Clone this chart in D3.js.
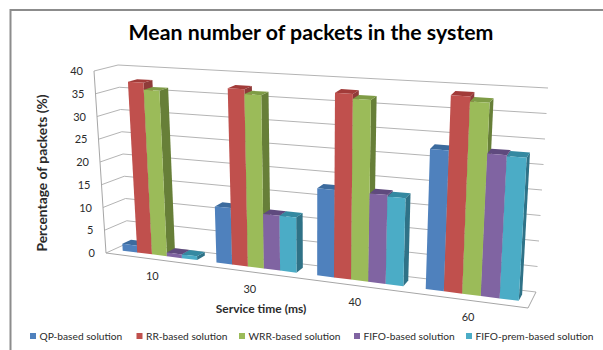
<!DOCTYPE html>
<html>
<head>
<meta charset="utf-8">
<script src="https://cdn.jsdelivr.net/npm/d3@7"></script>
<style>
html, body { margin: 0; padding: 0; background: #fff; }
svg { display: block; }
text { font-family: Lato, "Open Sans", sans-serif; fill: #2b2b2b; }
</style>
</head>
<body>
<svg></svg>
<script>
const width = 603, height = 350;
const svg = d3.select("svg").attr("width", width).attr("height", height);

// Chart data
const categories = ["10", "30", "40", "60"];
const seriesNames = ["QP-based solution", "RR-based solution", "WRR-based solution", "FIFO-based solution", "FIFO-prem-based solution"];
const qpValues = [1.5, 12, 18, 28];
const rrValues = [37.5, 37.5, 38, 39];
const wrrValues = [36, 36.5, 37, 38];
const fifoValues = [0.8, 11.5, 18, 28];
const fifoPremValues = [0.8, 11.5, 17.7, 27.8];
const yTicks = [0, 5, 10, 15, 20, 25, 30, 35, 40];
const seriesValues = [qpValues, rrValues, wrrValues, fifoValues, fifoPremValues];

const frontColors = ["#4f81bd", "#c0504d", "#9bbb59", "#8064a2", "#4bacc6"];
const topColors = ["#3c6b9e", "#a23b39", "#7f9c46", "#5f4a7e", "#3489a1"];
const sideColors = ["#3a618f", "#8f3b39", "#677f38", "#5a4675", "#2f7287"];

// Corners of the 3D box as they land on screen
const box = {
    frontBottomLeft: [106, 253], frontBottomRight: [528, 308],
    backBottomLeft: [128, 243], backBottomRight: [536, 292],
    frontTopLeft: [94, 71], frontTopRight: [540, 100],
    backTopLeft: [118, 65], backTopRight: [548, 88]
};
const perspective = 1.16;

// scales work in box units, project() turns them into pixels
const xGroup = d3.scaleBand().domain(categories).range([0, 1]).paddingInner(0.2).paddingOuter(0.1);
const xBar = d3.scaleBand().domain(d3.range(seriesNames.length)).range([0, xGroup.bandwidth()]);
const y = d3.scaleLinear().domain([0, 40]).range([0, 1]);
const depthFront = 0.35, depthBack = 0.75;

function mix(a, b, t) {
    return [a[0] + (b[0] - a[0]) * t, a[1] + (b[1] - a[1]) * t];
}

function project(u, v, d) {
    const t = u / (u + perspective * (1 - u));
    const bottom = mix(mix(box.frontBottomLeft, box.frontBottomRight, t), mix(box.backBottomLeft, box.backBottomRight, t), d);
    const top = mix(mix(box.frontTopLeft, box.frontTopRight, t), mix(box.backTopLeft, box.backTopRight, t), d);
    return mix(bottom, top, v);
}

const poly = d3.line();
const grid = svg.append("g").attr("fill", "none");

// Border of the chart area, only top and left show
svg.append("path")
    .attr("d", poly([[10.5, height], [10.5, 10], [width, 10]]))
    .attr("fill", "none").attr("stroke", "#8c8c8c").attr("stroke-width", 2);

// Gridlines on side wall and back wall
yTicks.forEach(tick => {
    const v = y(tick);
    grid.append("path")
        .attr("d", poly([project(0, v, 0), project(0, v, 1), project(1, v, 1)]))
        .attr("stroke", "#b4b4b4").attr("stroke-width", 1);
});
grid.append("path")
    .attr("d", poly([project(0, 1, 0), project(0, 0, 0), project(1, 0, 0), project(1, 0, 1)]))
    .attr("stroke", "#a6a6a6").attr("stroke-width", 1);

// Bars, left to right so the next front face covers the side before it
categories.forEach((cat, c) => {
    const g = svg.append("g").attr("class", "group");
    seriesNames.forEach((name, s) => {
        const u0 = xGroup(cat) + xBar(s);
        const u1 = u0 + xBar.bandwidth();
        const v = y(seriesValues[s][c]);
        g.append("path")
            .attr("fill", sideColors[s])
            .attr("d", poly([project(u1, 0, depthFront), project(u1, v, depthFront), project(u1, v, depthBack), project(u1, 0, depthBack)]) + "Z");
        g.append("path")
            .attr("fill", topColors[s])
            .attr("d", poly([project(u0, v, depthFront), project(u1, v, depthFront), project(u1, v, depthBack), project(u0, v, depthBack)]) + "Z");
        g.append("path")
            .attr("fill", frontColors[s])
            .attr("d", poly([project(u0, 0, depthFront), project(u1, 0, depthFront), project(u1, v, depthFront), project(u0, v, depthFront)]) + "Z");
    });
});

// Y tick labels
svg.selectAll(".ytick").data(yTicks).enter().append("text")
    .attr("class", "ytick")
    .attr("x", d => project(0, y(d), 0)[0] - 11)
    .attr("y", d => project(0, y(d), 0)[1] + 4)
    .attr("text-anchor", "end")
    .attr("font-size", 11)
    .text(d => d);

// Category labels
svg.selectAll(".xtick").data(categories).enter().append("text")
    .attr("class", "xtick")
    .attr("x", d => project(xGroup(d) + xGroup.bandwidth() / 2, 0, 0)[0])
    .attr("y", d => project(xGroup(d) + xGroup.bandwidth() / 2, 0, 0)[1] + 21)
    .attr("text-anchor", "middle")
    .attr("font-size", 11)
    .text(d => d);

// Titles
svg.append("text").attr("x", 311).attr("y", 40)
    .attr("text-anchor", "middle").attr("font-size", 21.3).attr("font-weight", 700)
    .style("fill", "#000")
    .text("Mean number of packets in the system");
svg.append("text").attr("x", 261).attr("y", 313)
    .attr("text-anchor", "middle").attr("font-size", 12).attr("font-weight", 700)
    .text("Service time (ms)");
svg.append("text").attr("transform", "translate(47,173) rotate(-90)")
    .attr("text-anchor", "middle").attr("font-size", 13.8).attr("font-weight", 700)
    .text("Percentage of packets (%)");

// Legend
const legendX = [30, 136.5, 239, 354, 466];
const legend = svg.selectAll(".legend").data(seriesNames).enter().append("g")
    .attr("class", "legend")
    .attr("transform", (d, i) => `translate(${legendX[i]},336)`);
legend.append("rect").attr("x", 0).attr("y", -3).attr("width", 6).attr("height", 6)
    .attr("fill", (d, i) => frontColors[i]);
legend.append("text").attr("x", 9.5).attr("y", 3.5)
    .attr("font-size", 10.2)
    .text(d => d);
</script>
</body>
</html>
